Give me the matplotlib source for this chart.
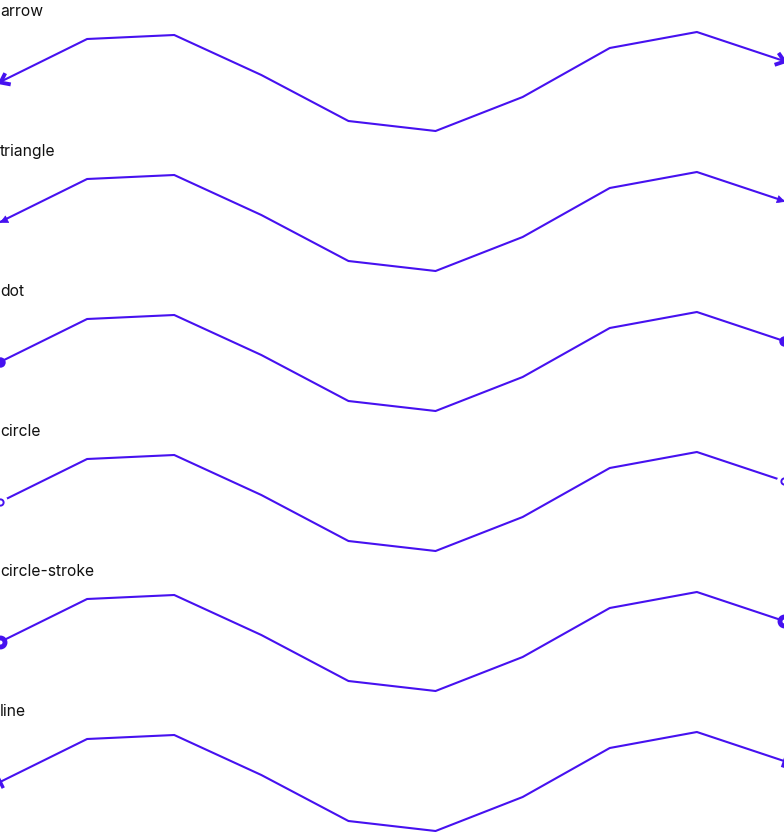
import numpy as np
import matplotlib
matplotlib.use("Agg")
import matplotlib.pyplot as plt
from matplotlib.path import Path
from matplotlib.markers import MarkerStyle
from matplotlib.transforms import Affine2D

plt.rcParams['font.family'] = ['Inter', 'DejaVu Sans']

x_cats = list(range(10))
values = [58, 101, 105, 65, 19, 9, 43, 92, 108, 79]
row_labels = ["arrow", "triangle", "dot", "circle", "circle-stroke", "line"]
color = "#4611f0"

W, H = 784, 832
fig = plt.figure(figsize=(W / 100, H / 100), dpi=100)
row_h = 140

chevron = Path([(-1, 0.75), (0, 0), (-1, -0.75)], [Path.MOVETO, Path.LINETO, Path.LINETO])
tri = Path([(0, 0), (-1, 0.5), (-1, -0.5), (0, 0)],
           [Path.MOVETO, Path.LINETO, Path.LINETO, Path.CLOSEPOLY])
bar = Path([(0, -1), (0, 1)], [Path.MOVETO, Path.LINETO])


def rot_marker(path, ang):
    return MarkerStyle(path, transform=Affine2D().rotate(ang))


for i, label in enumerate(row_labels):
    bottom = 1 - (i + 1) * row_h / H
    ax = fig.add_axes([0, bottom, 1, row_h / H])
    ax.set_xlim(0, 9)
    ax.set_ylim(0, 140)
    ax.axis("off")
    ax.plot(x_cats, values, color=color, lw=1.5, solid_joinstyle="miter", zorder=2)
    ax.text(0.0, 1 - 4 / row_h, label, transform=ax.transAxes, ha="left", va="top",
            fontsize=11.3, color="#111111")

    pts = ax.transData.transform(np.column_stack([x_cats, values]))
    a0 = np.arctan2(pts[0, 1] - pts[1, 1], pts[0, 0] - pts[1, 0])
    a1 = np.arctan2(pts[-1, 1] - pts[-2, 1], pts[-1, 0] - pts[-2, 0])
    ends = [(x_cats[0], values[0], a0), (x_cats[-1], values[-1], a1)]

    for ex, ey, ang in ends:
        if label == "arrow":
            ax.plot([ex], [ey], marker=rot_marker(chevron, ang), ms=12, mew=2.8,
                    mec=color, mfc="none", ls="none", zorder=3)
        elif label == "triangle":
            ax.plot([ex], [ey], marker=rot_marker(tri, ang), ms=10.5, mew=0.5,
                    mec=color, mfc=color, ls="none", zorder=3)
        elif label == "dot":
            ax.plot([ex], [ey], marker="o", ms=7.5, mew=0, mfc=color,
                    ls="none", zorder=3)
        elif label == "circle":
            ax.plot([ex], [ey], marker="o", ms=11, mew=0, mfc="white",
                    ls="none", zorder=3)
            ax.plot([ex], [ey], marker="o", ms=4.5, mew=1.4, mec=color, mfc="white",
                    ls="none", zorder=4)
        elif label == "circle-stroke":
            ax.plot([ex], [ey], marker="o", ms=6.5, mew=3.5, mec=color, mfc="white",
                    ls="none", zorder=3)
        elif label == "line":
            ax.plot([ex], [ey], marker=rot_marker(bar, ang), ms=9, mew=2.5,
                    mec=color, ls="none", zorder=3)

fig.savefig("out.png", dpi=100)
